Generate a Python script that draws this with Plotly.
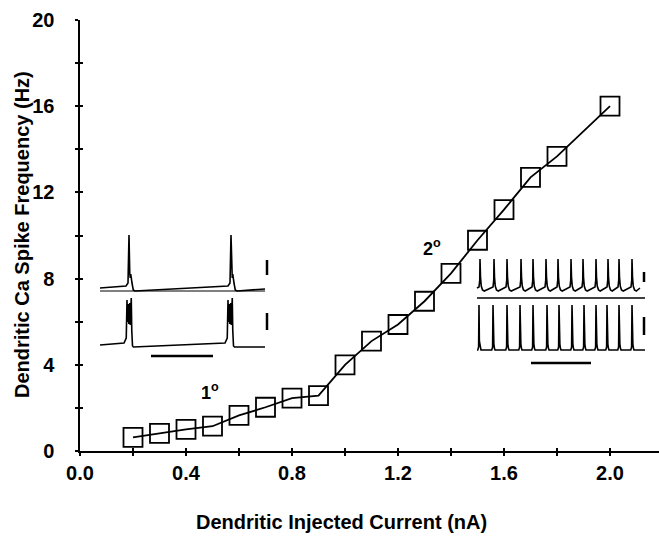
import plotly.graph_objects as go

# ---------------- main data ----------------
current_nA = [0.2, 0.3, 0.4, 0.5, 0.6, 0.7, 0.8, 0.9, 1.0, 1.1, 1.2, 1.3, 1.4, 1.5, 1.6, 1.7, 1.8, 2.0]
freq_Hz = [0.63, 0.82, 1.0, 1.15, 1.65, 2.03, 2.45, 2.57, 4.0, 5.1, 5.87, 6.95, 8.24, 9.78, 11.2, 12.7, 13.67, 16.0]

x_ticks = [0.0, 0.4, 0.8, 1.2, 1.6, 2.0]
x_ticklabels = ["0.0", "0.4", "0.8", "1.2", "1.6", "2.0"]
y_ticks = [0, 4, 8, 12, 16, 20]
y_ticklabels = ["0", "4", "8", "12", "16", "20"]

# ---------------- inset data (ms, mV) ----------------
left_top_spikes_ms = [232, 1048]          # single Ca spikes
left_bottom_bursts_ms = [216, 1024]       # burst onsets
right_top_spikes_ms = [40, 152, 256, 368, 464, 568, 664, 768, 864, 968, 1064, 1152, 1256]
right_bottom_spikes_ms = [32, 144, 256, 360, 464, 576, 672, 776, 872, 968, 1056, 1152, 1256]

FONT = "Liberation Sans, Arial, Helvetica, sans-serif"


def ca_spike_trace(spikes, t_end):
    t, v = [0], [-65]
    for s in spikes:
        t += [s - 24, s - 8, s, s + 6, s + 10, s + 14, s + 18, s + 24, s + 34, s + 48]
        v += [-63, -60, -12, -50, -55, -51, -57, -60, -67, -68]
    t.append(t_end); v.append(-66)
    return t, v


def burst_trace(bursts, t_end):
    t, v = [0], [-65]
    for s in bursts:
        t += [s - 24, s - 6, s, s + 4, s + 10, s + 14, s + 22, s + 26, s + 34, s + 38, s + 44, s + 52]
        v += [-63, -58, -20, -42, -24, -44, -23, -45, -18, -50, -66, -67]
    t.append(t_end); v.append(-67)
    return t, v


def fast_train_top(spikes, t_start, t_end):
    t, v = [t_start], [-63]
    for s in spikes:
        t += [s - 8, s - 2, s, s + 4, s + 10, s + 20, s + 34]
        v += [-62, -55, -34, -52, -61, -65, -66]
    t.append(t_end); v.append(-63)
    return t, v


def fast_train_bottom(spikes, t_start, t_end):
    t, v = [t_start], [-65]
    for s in spikes:
        t += [s - 10, s - 3, s, s + 3, s + 7, s + 11, s + 16]
        v += [-65, -62, -20, -56, -59, -63, -65]
    t.append(t_end); v.append(-65)
    return t, v


def bold(s):
    return "<b>" + s + "</b>"


fig = go.Figure()

# main curve
fig.add_trace(go.Scatter(
    x=current_nA, y=freq_Hz, mode="lines+markers",
    line=dict(color="black", width=1.8),
    marker=dict(symbol="square-open", size=19, color="black", line=dict(width=1.8)),
    showlegend=False, hoverinfo="skip",
))
# dummy trace for crossing-tick overlay axes
fig.add_trace(go.Scatter(x=[0], y=[0], xaxis="x4", yaxis="y4", mode="markers",
                         marker=dict(opacity=0), showlegend=False, hoverinfo="skip"))

# ---------- insets ----------
lw = 1.6
t, v = ca_spike_trace(left_top_spikes_ms, 1320)
fig.add_trace(go.Scatter(x=t, y=v, xaxis="x2", yaxis="y2", mode="lines",
                         line=dict(color="black", width=lw), showlegend=False, hoverinfo="skip"))
fig.add_trace(go.Scatter(x=[0, 1320], y=[-68, -68], xaxis="x2", yaxis="y2", mode="lines",
                         line=dict(color="black", width=1), showlegend=False, hoverinfo="skip"))
t, v = burst_trace(left_bottom_bursts_ms, 1320)
fig.add_trace(go.Scatter(x=t, y=[vv - 57 for vv in v], xaxis="x2", yaxis="y2", mode="lines",
                         line=dict(color="black", width=lw), showlegend=False, hoverinfo="skip"))

t, v = fast_train_top(right_top_spikes_ms, 16, 1320)
fig.add_trace(go.Scatter(x=t, y=v, xaxis="x3", yaxis="y3", mode="lines",
                         line=dict(color="black", width=lw), showlegend=False, hoverinfo="skip"))
t, v = fast_train_bottom(right_bottom_spikes_ms, 16, 1360)
fig.add_trace(go.Scatter(x=t, y=[vv - 60 for vv in v], xaxis="x3", yaxis="y3", mode="lines",
                         line=dict(color="black", width=lw), showlegend=False, hoverinfo="skip"))

shapes = []
def bar(xref, yref, x0, y0, x1, y1, w=2.5):
    shapes.append(dict(type="line", xref=xref, yref=yref, x0=x0, y0=y0, x1=x1, y1=y1,
                       line=dict(color="black", width=w)))

# left inset scale bars
bar("x2", "y2", 1336, -37, 1336, -52)
bar("x2", "y2", 1336, -90, 1336, -107)
bar("x2", "y2", 408, -133, 904, -133)
# right inset separator + scale bars
bar("x3", "y3", 16, -73, 1360, -73, 1.5)
bar("x3", "y3", 1352, -47, 1352, -57)
bar("x3", "y3", 1352, -92, 1352, -110)
bar("x3", "y3", 448, -138, 928, -138)

# ---------- layout geometry ----------
W, H = 659, 537
L, R, T, B = 80, 0, 20, 86
pw, ph = W - L - R, H - T - B
XMAX = pw / 265.0


def px_dom_x(a, b):
    return [(a - L) / pw, (b - L) / pw]


def px_dom_y(top, bottom):
    return [(H - B - bottom) / ph, (H - B - top) / ph]


tickfont = dict(family=FONT, size=20, color="black")
NB = "&nbsp;"

fig.update_layout(
    width=W, height=H,
    margin=dict(l=L, r=R, t=T, b=B),
    paper_bgcolor="white", plot_bgcolor="rgba(0,0,0,0)",
    shapes=shapes,
    xaxis=dict(range=[0, XMAX], domain=[0, 1], anchor="y",
               showline=True, linecolor="black", linewidth=1.8, showgrid=False, zeroline=False,
               tickmode="array", tickvals=x_ticks, ticktext=[bold(s) for s in x_ticklabels],
               ticks="outside", ticklen=3, tickwidth=1.5, tickcolor="black",
               minor=dict(dtick=0.2, tick0=0, ticks="outside", ticklen=3, tickwidth=1.5, tickcolor="black"),
               tickfont=tickfont),
    yaxis=dict(range=[0, 20], domain=[0, 1], anchor="x",
               showline=True, linecolor="black", linewidth=1.8, showgrid=False, zeroline=False,
               tickmode="array", tickvals=y_ticks,
               ticktext=[bold(s) + NB * 3 for s in y_ticklabels],
               ticks="outside", ticklen=3, tickwidth=1.5, tickcolor="black",
               minor=dict(dtick=2, tick0=0, ticks="outside", ticklen=3, tickwidth=1.5, tickcolor="black"),
               tickfont=tickfont),
    xaxis4=dict(range=[0, XMAX], overlaying="x", anchor="y", showline=False, showgrid=False,
                zeroline=False, showticklabels=False, tick0=0, dtick=0.2,
                ticks="inside", ticklen=3, tickwidth=1.5, tickcolor="black"),
    yaxis4=dict(range=[0, 20], overlaying="y", anchor="x", showline=False, showgrid=False,
                zeroline=False, showticklabels=False, tick0=0, dtick=2,
                ticks="inside", ticklen=3, tickwidth=1.5, tickcolor="black"),
    xaxis2=dict(domain=px_dom_x(100, 272), range=[0, 172 * 8], anchor="y2", visible=False),
    yaxis2=dict(domain=px_dom_y(225, 360), range=[-137, -2], anchor="x2", visible=False),
    xaxis3=dict(domain=px_dom_x(475, 650), range=[0, 175 * 8], anchor="y3", visible=False),
    yaxis3=dict(domain=px_dom_y(252, 368), range=[-143, -27], anchor="x3", visible=False),
    annotations=[
        dict(text=bold("Dendritic Injected Current (nA)"), xref="paper", yref="paper",
             x=(341 - L) / pw, y=(H - B - 522) / ph, xanchor="center", yanchor="middle",
             showarrow=False, font=dict(family=FONT, size=20, color="black")),
        dict(text=bold("Dendritic Ca Spike Frequency (Hz)"), xref="paper", yref="paper",
             x=(22 - L) / pw, y=(H - B - 235) / ph, xanchor="center", yanchor="middle",
             textangle=-90, showarrow=False, font=dict(family=FONT, size=20, color="black")),
        dict(text=bold("1<sup>o</sup>"), xref="x", yref="y", x=0.49, y=2.75, showarrow=False,
             font=dict(family=FONT, size=18, color="black")),
        dict(text=bold("2<sup>o</sup>"), xref="x", yref="y", x=1.33, y=9.45, showarrow=False,
             font=dict(family=FONT, size=18, color="black")),
    ],
)

fig.write_html("out.html")
